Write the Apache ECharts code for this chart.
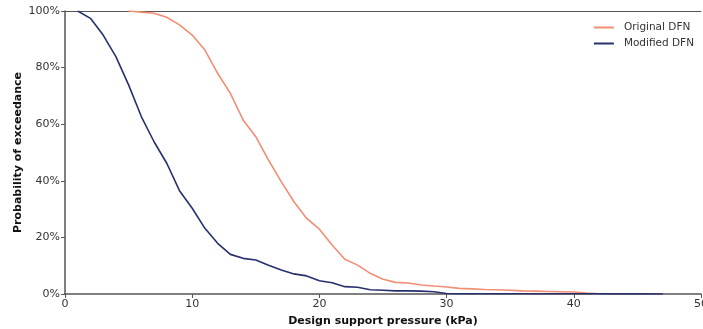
<!DOCTYPE html>
<html>
<head>
<meta charset="utf-8">
<script src="https://cdn.jsdelivr.net/npm/echarts@6/dist/echarts.min.js"></script>
<style>
  html, body { margin: 0; padding: 0; background: #fff; }
  #chart { width: 703px; height: 329px; }
</style>
</head>
<body>
<div id="chart"></div>
<script>
// 设计支护压力 (kPa) 与超越概率 (%)
const origX = [5, 6, 7, 8, 9, 10, 11, 12, 13, 14, 15, 16, 17, 18, 19, 20, 21, 22, 23, 24, 25,
  26, 27, 28, 29, 30, 31, 32, 33, 34, 35, 36, 37, 38, 39, 40, 41, 42];
const origY = [100, 99.6, 99.2, 97.8, 95.1, 91.5, 86.2, 78.0, 70.9, 61.5, 55.6, 47.3, 39.7, 32.6, 26.7, 22.9, 17.3, 12.3, 10.2, 7.3, 5.2,
  4.1, 3.9, 3.2, 2.8, 2.5, 2.0, 1.8, 1.6, 1.5, 1.3, 1.1, 1.0, 0.9, 0.8, 0.7, 0.3, 0.1];

const modX = [1, 2, 3, 4, 5, 6, 7, 8, 9, 10, 11, 12, 13, 14, 15, 16, 17, 18, 19, 20, 21, 22, 23, 24, 25,
  26, 27, 28, 29, 30, 31, 35, 40, 45, 47];
const modY = [100, 97.4, 91.5, 83.9, 73.9, 62.7, 53.8, 46.2, 36.5, 30.3, 23.2, 17.9, 14.0, 12.6, 12.0, 10.2, 8.5, 7.1, 6.4, 4.7, 4.0, 2.6, 2.4, 1.5, 1.3,
  1.1, 1.1, 1.0, 0.8, 0.2, 0.1, 0.1, 0.1, 0.05, 0];

const SERIES_NAMES = ['Original DFN', 'Modified DFN'];
const COLORS = ['#f28e74', '#27306c'];
const FONT = 'DejaVu Sans';

const pairs = (xs, ys) => xs.map((x, i) => [x, ys[i]]);

const chart = echarts.init(document.getElementById('chart'));
chart.setOption({
  animation: false,
  textStyle: { fontFamily: FONT },
  grid: { left: 65, right: 2, top: 11, bottom: 35, containLabel: false, outerBoundsMode: 'none' },
  legend: {
    right: 4, top: 17, orient: 'vertical', itemGap: 5,
    itemWidth: 20, itemHeight: 2,
    icon: 'rect',
    textStyle: { fontFamily: FONT, fontSize: 10.5, color: '#333', padding: [0, 0, 0, 5] },
    data: SERIES_NAMES,
  },
  xAxis: [{
    type: 'value', min: 0, max: 50, interval: 10,
    name: 'Design support pressure (kPa)', nameLocation: 'middle', nameGap: 22,
    nameMoveOverlap: false,
    nameTextStyle: { fontFamily: FONT, fontSize: 11, fontWeight: 'bold', color: '#111' },
    axisLine: { lineStyle: { color: '#555', width: 1.5 } },
    axisTick: { show: true, length: 4, lineStyle: { color: '#555' } },
    axisLabel: { fontFamily: FONT, fontSize: 11, color: '#333', margin: 5 },
    splitLine: { show: false },
  }, {
    type: 'value', min: 0, max: 50, position: 'top',
    axisLine: { show: true, onZero: false, lineStyle: { color: '#555', width: 1 } },
    axisTick: { show: false }, axisLabel: { show: false }, splitLine: { show: false },
  }],
  yAxis: {
    type: 'value', min: 0, max: 100, interval: 20,
    name: 'Probability of exceedance', nameLocation: 'middle', nameGap: 41,
    nameMoveOverlap: false,
    nameTextStyle: { fontFamily: FONT, fontSize: 11, fontWeight: 'bold', color: '#111' },
    axisLine: { show: true, lineStyle: { color: '#555', width: 1.5 } },
    axisTick: { show: true, length: 4, lineStyle: { color: '#555' } },
    axisLabel: { fontFamily: FONT, fontSize: 11, color: '#333', margin: 5, formatter: v => v + '%' },
    splitLine: { show: false },
  },
  series: [{
    name: SERIES_NAMES[0], type: 'line', xAxisIndex: 0,
    data: pairs(origX, origY), showSymbol: false,
    lineStyle: { color: COLORS[0], width: 1.6 }, itemStyle: { color: COLORS[0] },
  }, {
    name: SERIES_NAMES[1], type: 'line', xAxisIndex: 0,
    data: pairs(modX, modY), showSymbol: false,
    lineStyle: { color: COLORS[1], width: 1.6 }, itemStyle: { color: COLORS[1] },
  }],
});
</script>
</body>
</html>
